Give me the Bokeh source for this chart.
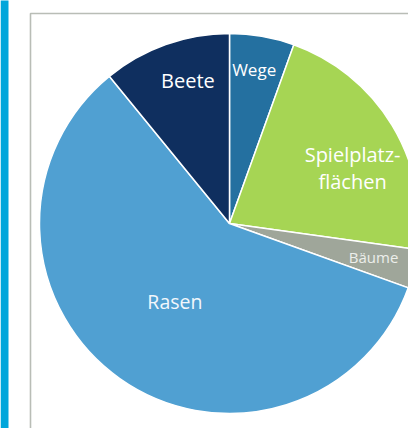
import numpy as np
from bokeh.plotting import figure
from bokeh.models import Range1d, ColumnDataSource
from bokeh.embed import file_html
from bokeh.resources import INLINE
from bokeh.core.properties import value

# ---- data (clockwise from 12 o'clock) ----
categories = ["Wege", "Spielplatzflächen", "Bäume", "Rasen", "Beete"]
labels = ["Wege", "Spielplatz-\nflächen", "Bäume", "Rasen", "Beete"]
shares = [5.5, 21.7, 3.3, 58.6, 10.9]

# ---- styles ----
colors = ["#2470a0", "#a6d554", "#9fa69a", "#50a0d2", "#0f2f5f"]
label_colors = ["#ffffff", "#ffffff", "#eceeea", "#f2f7fc", "#ffffff"]
label_sizes = ["17px", "20px", "15px", "19.5px", "20px"]
label_r = [156, 135, 148, 95, 149]        # label distance from centre (px)
label_da = [-0.8, 6.9, -0.7, -0.2, 3.4]  # angular tweak of label (deg)

W, H = 408, 428
cx, cy, R = 229, H - 223, 190

p = figure(width=W, height=H, output_backend="svg", toolbar_location=None,
           x_range=Range1d(0, W), y_range=Range1d(0, H),
           min_border=0, outline_line_color=None, background_fill_color="white",
           border_fill_color="white")
p.axis.visible = False
p.grid.visible = False

# left accent bar and panel frame
p.quad(left=0, right=8, bottom=-10, top=H + 10, fill_color="#00a6db", line_color=None)
p.line(x=[30, 30, W + 20], y=[-20, H - 13, H - 13], line_color="#b9bdb6", line_width=1.6)

vals = np.array(shares, dtype=float)
frac = vals / vals.sum()
cum = np.concatenate([[0], np.cumsum(frac)])
start = np.pi / 2 - 2 * np.pi * cum[:-1]
end = np.pi / 2 - 2 * np.pi * cum[1:]
mid_deg = 360 * (cum[:-1] + cum[1:]) / 2 + np.array(label_da)

src = ColumnDataSource(dict(cat=categories, start=start, end=end, color=colors))
p.wedge(x=cx, y=cy, radius=R, start_angle="start", end_angle="end",
        direction="clock", fill_color="color", line_color="white",
        line_width=1.5, source=src)

th = np.radians(mid_deg)
lx = cx + np.array(label_r) * np.sin(th)
ly = cy + np.array(label_r) * np.cos(th)
lsrc = ColumnDataSource(dict(x=lx, y=ly, t=labels, c=label_colors, fs=label_sizes))
p.text(x="x", y="y", text="t", text_color="c", text_font_size="fs",
       text_font=value("Open Sans"), text_align="center", text_baseline="middle",
       text_line_height=1.0, source=lsrc)

open("out.html", "w").write(file_html(p, INLINE))
